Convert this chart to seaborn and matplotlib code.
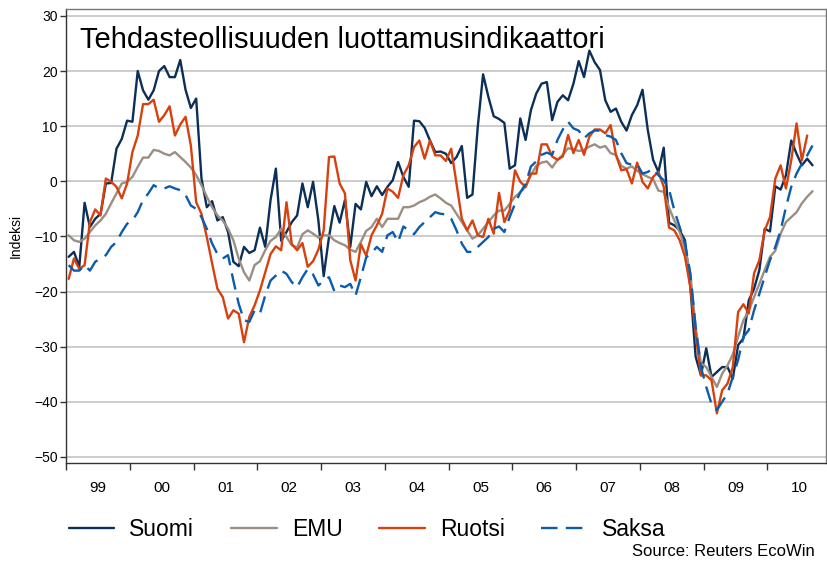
import matplotlib
matplotlib.use("Agg")
import matplotlib.pyplot as plt
import numpy as np
import pandas as pd
import seaborn as sns

# monthly index values, Jan 1999 onwards
suomi = [-13.7, -12.8, -15.5, -3.9, -8.3, -6.8, -5.9, -0.4, -0.3, 5.9,
         7.7, 11.0, 10.8, 20.0, 16.5, 14.8, 16.5, 20.0, 20.9, 18.9,
         18.9, 22.0, 16.6, 13.3, 15.0, 0.5, -4.7, -3.6, -7.1, -6.5,
         -9.2, -14.6, -15.4, -11.9, -13.0, -12.5, -8.4, -11.9, -3.4, 2.3,
         -10.8, -9.2, -7.4, -6.2, -0.4, -4.7, -0.1, -7.1, -17.2, -10.1,
         -4.5, -7.5, -3.4, -11.9, -4.1, -5.1, -0.1, -2.7, -0.9, -2.5,
         -1.0, 0.2, 3.5, 0.8, -1.0, 11.0, 10.9, 9.7, 7.4, 5.3,
         5.4, 5.0, 3.3, 4.4, 6.4, -3.0, -2.4, 9.9, 19.4, 15.3,
         11.8, 11.3, 10.6, 2.3, 2.9, 11.4, 7.5, 12.9, 15.9, 17.7,
         18.0, 11.1, 14.4, 15.6, 14.7, 17.7, 21.8, 18.9, 23.7, 21.6,
         20.2, 14.7, 12.6, 13.2, 10.8, 9.2, 12.0, 13.8, 16.6, 9.3,
         3.9, 1.7, 6.1, -7.5, -8.0, -8.9, -10.7, -19.0, -31.8, -35.2,
         -30.3, -35.5, -34.6, -33.7, -33.7, -35.8, -29.7, -28.5, -21.6, -19.5,
         -16.1, -8.6, -9.1, -0.9, -1.5, 1.1, 7.4, 5.0, 2.9, 4.1,
         2.9]

emu = [-9.8, -10.7, -11.0, -10.4, -9.2, -8.0, -7.1, -5.9, -4.0, -2.2,
       -0.4, -0.1, 0.8, 2.6, 4.3, 4.3, 5.7, 5.5, 5.0, 4.7,
       5.3, 4.4, 3.5, 2.5, 1.1, -0.7, -2.8, -4.7, -6.2, -7.1,
       -8.6, -10.7, -14.0, -16.5, -18.0, -15.2, -14.5, -12.5, -10.8, -10.1,
       -8.6, -10.1, -11.6, -12.0, -9.6, -8.9, -9.5, -10.2, -9.8, -9.8,
       -10.7, -11.2, -11.6, -12.4, -12.8, -11.0, -9.0, -8.3, -6.8, -8.3,
       -6.8, -6.8, -6.8, -4.7, -4.7, -4.4, -3.8, -3.4, -2.8, -2.4,
       -3.1, -3.9, -4.4, -5.9, -7.4, -8.9, -10.4, -9.8, -8.6, -7.4,
       -6.2, -5.3, -5.3, -4.1, -2.8, -2.0, -1.0, 1.1, 2.8, 3.4,
       3.6, 2.5, 3.9, 4.8, 6.0, 5.8, 5.5, 5.7, 6.3, 6.7,
       6.1, 6.4, 5.1, 4.8, 2.8, 2.3, 2.7, 1.9, 1.3, 0.8,
       0.4, -1.7, -1.9, -4.8, -7.1, -9.2, -12.2, -16.7, -26.4, -33.0,
       -33.7, -35.5, -37.3, -34.9, -33.4, -31.4, -28.2, -25.2, -23.5, -21.0,
       -18.6, -16.1, -13.7, -12.6, -9.5, -7.4, -6.5, -5.6, -4.0, -2.8,
       -1.8]

ruotsi = [-17.7, -14.0, -15.9, -15.2, -7.4, -5.1, -6.2, 0.5, -0.1, -1.0,
          -3.1, -0.4, 5.3, 8.3, 14.0, 14.0, 14.8, 10.8, 12.0, 13.6,
          8.3, 10.3, 11.7, 6.5, -3.8, -5.9, -10.1, -14.9, -19.5, -21.0,
          -24.9, -23.4, -24.0, -29.2, -24.6, -22.5, -19.8, -16.5, -13.2, -11.8,
          -12.5, -3.8, -11.4, -12.5, -11.2, -15.5, -14.5, -12.4, -8.9, 4.4,
          4.5, -0.4, -2.2, -14.3, -18.0, -11.4, -13.5, -9.8, -8.0, -5.9,
          -1.3, -1.9, -3.0, 1.1, 2.9, 6.2, 7.4, 4.1, 7.4, 4.7,
          4.7, 3.7, 5.9, -0.4, -6.8, -8.9, -7.1, -9.8, -10.1, -6.8,
          -9.5, -2.1, -7.4, -5.3, 2.0, -0.1, -1.0, 1.4, 1.4, 6.7,
          6.7, 4.5, 3.9, 4.5, 8.4, 5.1, 7.5, 4.8, 8.1, 9.4,
          9.4, 8.7, 10.2, 4.8, 2.0, 2.2, -0.4, 3.4, -0.1, -1.3,
          0.8, 1.7, -1.0, -8.4, -8.9, -10.7, -13.7, -19.2, -27.6, -35.2,
          -35.2, -36.1, -42.1, -37.9, -36.7, -33.7, -23.7, -22.3, -24.0, -16.7,
          -14.3, -8.9, -6.5, 0.5, 2.9, -1.3, 3.8, 10.5, 3.8, 8.3]

saksa = [-15.2, -16.2, -16.2, -15.2, -16.2, -14.6, -14.0, -13.4, -11.9, -11.0,
         -9.2, -7.7, -7.1, -5.6, -3.4, -2.2, -0.7, -1.3, -1.3, -0.9,
         -1.3, -1.6, -2.5, -4.4, -5.0, -6.5, -8.6, -11.3, -13.2, -14.0,
         -13.4, -18.0, -22.2, -25.2, -25.5, -23.4, -24.0, -20.7, -18.0, -17.1,
         -16.2, -16.8, -18.3, -19.2, -17.4, -15.9, -16.9, -18.9, -18.0, -17.4,
         -19.9, -18.9, -19.2, -18.6, -20.7, -17.4, -13.8, -13.0, -11.9, -12.8,
         -9.8, -9.2, -11.0, -8.2, -8.9, -9.6, -8.3, -7.4, -6.5, -5.6,
         -5.9, -6.0, -6.8, -8.9, -11.3, -12.8, -12.8, -11.9, -11.0, -10.1,
         -8.6, -8.2, -9.2, -6.5, -4.1, -2.0, -0.5, 2.7, 3.6, 4.8,
         5.2, 4.8, 7.5, 9.4, 10.8, 9.6, 9.2, 7.8, 8.7, 9.2,
         9.2, 8.4, 8.1, 7.5, 5.1, 3.3, 3.0, 3.1, 1.4, 1.7,
         2.3, 1.1, 0.2, -1.5, -5.3, -8.3, -11.3, -16.7, -26.4, -33.7,
         -37.3, -40.4, -41.5, -40.0, -38.5, -35.5, -32.4, -28.2, -27.0, -23.4,
         -20.4, -17.3, -14.3, -11.9, -8.9, -4.7, -1.0, 1.4, 3.2, 4.7,
         6.5]

series = {"Suomi": suomi, "EMU": emu, "Ruotsi": ruotsi, "Saksa": saksa}
colors = {"Suomi": "#0B2F57", "EMU": "#9A8F82", "Ruotsi": "#D8400E", "Saksa": "#0B5CAD"}
year_labels = ["99", "00", "01", "02", "03", "04", "05", "06", "07", "08", "09", "10"]

frames = []
for name, vals in series.items():
    m = np.arange(len(vals))
    frames.append(pd.DataFrame({"t": 1999 + (m + 0.5) / 12, "value": vals, "series": name}))
df = pd.concat(frames, ignore_index=True)

sns.set_theme(style="white")
plt.rcParams["font.family"] = ["Liberation Sans", "DejaVu Sans"]
plt.rcParams["text.color"] = "black"
plt.rcParams["xtick.color"] = "black"
plt.rcParams["ytick.color"] = "black"
plt.rcParams["axes.labelcolor"] = "black"

fig = plt.figure(figsize=(8.27, 5.63), dpi=100)
ax = fig.add_axes([66 / 827, 1 - 463 / 563, 760 / 827, (463 - 9.3) / 563])

for name in series:
    sub = df[df.series == name]
    ls = (0, (7, 3.5)) if name == "Saksa" else "-"
    sns.lineplot(data=sub, x="t", y="value", color=colors[name], linewidth=1.7,
                 linestyle=ls, label=name, ax=ax)

ax.set_xlim(1999, 2010.92)
ax.set_ylim(-51.1, 31.2)
ax.set_yticks(np.arange(-50, 31, 10))
ax.yaxis.grid(True, color="#c4c4c4", linewidth=1.2)
ax.set_axisbelow(True)
ax.set_xticks(np.arange(1999, 2011))
ax.set_xticklabels([])
ax.set_xticks(np.arange(1999, 2011) + 0.5, minor=True)
ax.set_xticklabels(year_labels, minor=True)
ax.tick_params(axis="x", which="major", direction="out", length=5, width=1, color="#333333", bottom=True)
ax.tick_params(axis="x", which="minor", length=0, pad=13, labelsize=11)
ax.tick_params(axis="y", direction="out", length=4, width=1, color="#333333", left=True, labelsize=10, pad=2)
ax.set_xlabel("")
ax.set_ylabel("Indeksi", fontsize=10, labelpad=8)
for side in ["left", "bottom"]:
    ax.spines[side].set_color("#333333")
    ax.spines[side].set_linewidth(1)
for side in ["top", "right"]:
    ax.spines[side].set_color("#777777")
    ax.spines[side].set_linewidth(1)

ax.text(0.018, 0.932, "Tehdasteollisuuden luottamusindikaattori", transform=ax.transAxes,
        fontsize=21, va="center", ha="left", color="black")

handles, labels = ax.get_legend_handles_labels()
ax.get_legend().remove()
fig.legend(handles, labels, loc="center left", bbox_to_anchor=(48 / 827, 1 - 530 / 563),
           ncol=4, frameon=False, fontsize=16.5, handlelength=2.0, handletextpad=0.65,
           columnspacing=1.6)
fig.text(815 / 827, 1 - 552 / 563, "Source: Reuters EcoWin", ha="right", va="center", fontsize=12)

fig.savefig("out.png", dpi=100)
